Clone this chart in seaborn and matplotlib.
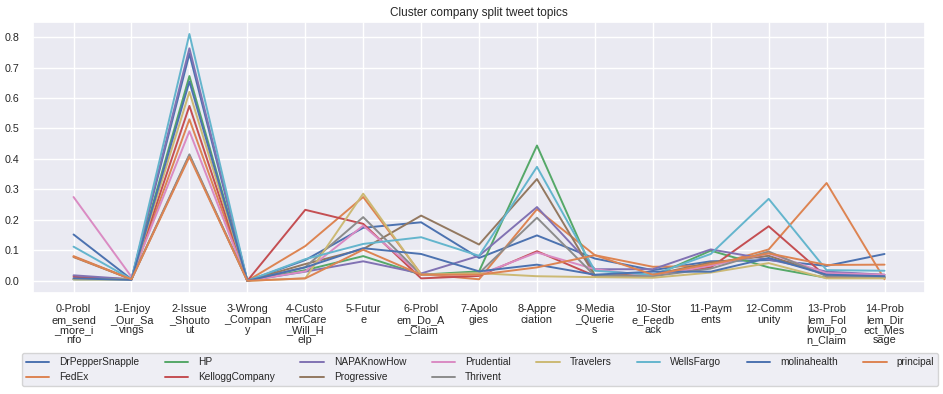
import seaborn as sns
import pandas as pd
import matplotlib.pyplot as plt

topics = ["0-Problem_send_more_info", "1-Enjoy_Our_Savings", "2-Issue_Shoutout",
          "3-Wrong_Company", "4-CustomerCare_Will_Help", "5-Future",
          "6-Problem_Do_A_Claim", "7-Apologies", "8-Appreciation",
          "9-Media_Queries", "10-Store_Feedback", "11-Payments", "12-Community",
          "13-Problem_Followup_on_Claim", "14-Problem_Direct_Message"]

companies = ["DrPepperSnapple", "FedEx", "HP", "KelloggCompany", "NAPAKnowHow",
             "Progressive", "Prudential", "Thrivent", "Travelers", "WellsFargo",
             "molinahealth", "principal"]

drpepper = [0.152, 0.005, 0.745, 0.0, 0.068, 0.174, 0.192, 0.075, 0.149, 0.073, 0.035, 0.064, 0.068, 0.049, 0.088]
fedex = [0.081, 0.005, 0.530, 0.0, 0.114, 0.275, 0.022, 0.005, 0.235, 0.084, 0.046, 0.049, 0.103, 0.321, 0.005]
hp = [0.005, 0.005, 0.672, 0.0, 0.035, 0.081, 0.020, 0.031, 0.444, 0.016, 0.015, 0.099, 0.044, 0.010, 0.010]
kellogg = [0.013, 0.005, 0.574, 0.0, 0.233, 0.187, 0.008, 0.016, 0.097, 0.016, 0.020, 0.044, 0.179, 0.013, 0.010]
napa = [0.018, 0.005, 0.763, 0.0, 0.030, 0.064, 0.024, 0.082, 0.242, 0.038, 0.038, 0.103, 0.070, 0.030, 0.020]
progressive = [0.078, 0.005, 0.412, 0.0, 0.055, 0.104, 0.214, 0.119, 0.334, 0.016, 0.020, 0.060, 0.082, 0.020, 0.015]
prudential = [0.275, 0.013, 0.491, 0.0, 0.031, 0.181, 0.020, 0.020, 0.093, 0.038, 0.015, 0.050, 0.090, 0.025, 0.020]
thrivent = [0.005, 0.005, 0.415, 0.0, 0.045, 0.209, 0.020, 0.025, 0.207, 0.016, 0.015, 0.040, 0.096, 0.015, 0.010]
travelers = [0.005, 0.005, 0.620, 0.0, 0.008, 0.286, 0.020, 0.025, 0.015, 0.012, 0.010, 0.027, 0.058, 0.008, 0.008]
wellsfargo = [0.112, 0.005, 0.810, 0.0, 0.071, 0.121, 0.143, 0.082, 0.374, 0.033, 0.020, 0.088, 0.269, 0.035, 0.033]
molina = [0.008, 0.003, 0.654, 0.0, 0.044, 0.107, 0.088, 0.031, 0.053, 0.020, 0.030, 0.030, 0.075, 0.020, 0.015]
principal = [0.079, 0.005, 0.407, 0.0, 0.008, 0.102, 0.020, 0.020, 0.044, 0.084, 0.020, 0.055, 0.090, 0.052, 0.053]

values = [drpepper, fedex, hp, kellogg, napa, progressive, prudential,
          thrivent, travelers, wellsfargo, molina, principal]

# long form table for seaborn
rows = []
for company, vals in zip(companies, values):
    for i, v in enumerate(vals):
        rows.append({"topic": i, "share": v, "company": company})
df = pd.DataFrame(rows)

sns.set_theme(style="darkgrid")
plt.rcParams['font.family'] = ['Liberation Sans', 'DejaVu Sans']

fig = plt.figure(figsize=(9.43, 3.94), dpi=100)
ax = fig.add_axes([0.035, 0.256, 0.946, 0.689])

sns.lineplot(data=df, x="topic", y="share", hue="company", hue_order=companies,
             palette=sns.color_palette("deep", len(companies)), linewidth=1.4, ax=ax)

# wrap topic names every 7 characters like the original
wrapped = ["\n".join(t[i:i + 7] for i in range(0, len(t), 7)) for t in topics]
ax.set_xticks(range(len(topics)))
ax.set_xticklabels(wrapped, fontsize=7.8, linespacing=1.05)
ax.tick_params(axis="x", pad=2)
ax.tick_params(axis="y", labelsize=7.7)
ax.set_xlabel("")
ax.set_ylabel("")
ax.set_title("Cluster company split tweet topics", fontsize=8.5, pad=4)

sns.move_legend(ax, "upper left", bbox_to_anchor=(-0.0127, -0.221),
                ncol=8, title=None, fontsize=7.3, frameon=True,
                borderaxespad=0, handlelength=2.3, handletextpad=1.0,
                columnspacing=2.5)

fig.savefig("out.png", dpi=100)
